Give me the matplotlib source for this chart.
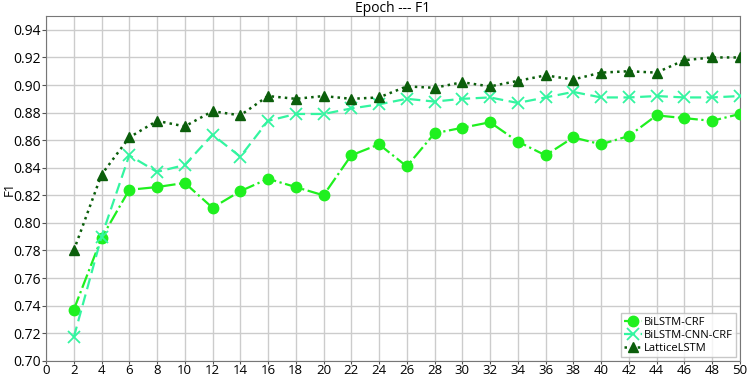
import matplotlib
matplotlib.use("Agg")
import matplotlib.pyplot as plt

plt.rcParams['font.family'] = ['Open Sans', 'DejaVu Sans']

epochs = list(range(2, 51, 2))
bilstm_crf = [0.737, 0.789, 0.824, 0.826, 0.829, 0.811, 0.823, 0.832, 0.826, 0.820,
              0.849, 0.857, 0.841, 0.865, 0.869, 0.873, 0.859, 0.849, 0.862, 0.857,
              0.863, 0.878, 0.876, 0.874, 0.879]
bilstm_cnn_crf = [0.717, 0.790, 0.849, 0.837, 0.842, 0.864, 0.848, 0.874, 0.879, 0.879,
                  0.883, 0.886, 0.890, 0.888, 0.890, 0.891, 0.887, 0.891, 0.895, 0.891,
                  0.891, 0.892, 0.891, 0.891, 0.892]
lattice_lstm = [0.780, 0.835, 0.862, 0.874, 0.870, 0.881, 0.878, 0.892, 0.890, 0.892,
                0.890, 0.891, 0.899, 0.898, 0.902, 0.899, 0.903, 0.907, 0.904, 0.909,
                0.910, 0.909, 0.918, 0.920, 0.920]

fig = plt.figure(figsize=(7.48, 3.83), dpi=100)
ax = fig.add_axes([0.0615, 0.058, 0.9275, 0.900])

ax.plot(epochs, bilstm_crf, linestyle='-.', color='#1ff01f', marker='o',
        markersize=7.5, linewidth=1.6, label='BiLSTM-CRF', zorder=3)
ax.plot(epochs, bilstm_cnn_crf, linestyle=(0, (5, 2.5)), color='#33f5a0', marker='x',
        markersize=8, markeredgewidth=1.3, linewidth=1.6, label='BiLSTM-CNN-CRF', zorder=3)
ax.plot(epochs, lattice_lstm, linestyle=':', color='#0b5e0b', marker='^',
        markersize=7.5, linewidth=1.8, label='LatticeLSTM', zorder=4)

ax.set_xlim(0, 50)
ax.set_ylim(0.70, 0.95)
ax.set_xticks(range(0, 51, 2))
ax.set_yticks([0.70 + 0.02 * i for i in range(13)])
ax.set_yticklabels(['%.2f' % (0.70 + 0.02 * i) for i in range(13)])
ax.tick_params(axis='y', labelsize=10, length=3, color='#555555', pad=1)
ax.tick_params(axis='x', labelsize=9.5, length=2, color='#555555', pad=0)
ax.grid(True, color='#cccccc', linewidth=1)
ax.set_axisbelow(True)
for s in ax.spines.values():
    s.set_color('#777777')

ax.set_title('Epoch --- F1', fontsize=10, pad=1)
ax.set_ylabel('F1', fontsize=9.5)
ax.yaxis.set_label_coords(-0.044, 0.5)

leg = ax.legend(loc='lower right', fontsize=8, handlelength=1.6, handletextpad=0.2,
                borderpad=0.3, labelspacing=0.2, fancybox=False, borderaxespad=0.3)
leg.get_frame().set_edgecolor('#bbbbbb')

fig.savefig('out.png', dpi=100)
